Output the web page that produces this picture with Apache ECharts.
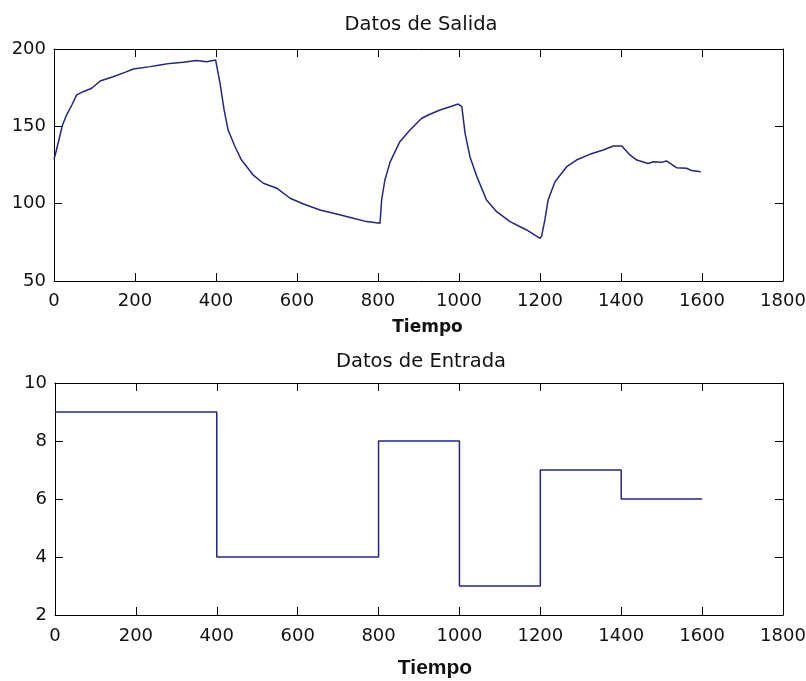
<!DOCTYPE html>
<html><head><meta charset="utf-8">
<script src="https://cdn.jsdelivr.net/npm/echarts@6/dist/echarts.min.js"></script>
<style>html,body{margin:0;padding:0;background:#fff}#c{width:806px;height:681px}</style>
</head><body><div id="c"></div>
<script>
// Output data (Datos de Salida): time, value
const outTime = [0, 3, 11, 21, 31, 44, 56, 72, 93, 114, 146, 175, 196, 237, 262, 286, 319, 352, 377, 399, 402,
  410, 420, 430, 447, 463, 492, 517, 550, 583, 616, 657, 698, 739, 772, 805,
  809, 817, 830, 854, 879, 908, 924, 953, 978, 998,
  1007, 1015, 1027, 1044, 1068, 1093, 1126, 1167, 1200,
  1204, 1212, 1220, 1237, 1266, 1290, 1323, 1356, 1381, 1402, 1422, 1439, 1467, 1480, 1500, 1512, 1537, 1562, 1574, 1578, 1597];
const outValue = [129, 131.5, 140, 150.9, 157.3, 163.8, 170.3, 172.4, 174.6, 179.3, 182.1, 184.9, 187.1, 188.6, 189.7, 190.7, 191.4, 192.5, 191.8, 192.9, 192.4,
  177.8, 160.6, 147.6, 136.8, 128.2, 118.5, 113.2, 110, 103.5, 99.8, 95.9, 93.3, 90.6, 88.4, 87.3,
  102.4, 115.3, 127, 140.1, 147.6, 155.2, 157.3, 160.6, 162.7, 164.4,
  162.7, 145.5, 130.4, 117.5, 102.4, 94.8, 88.4, 83, 77.6,
  79, 89.5, 102.4, 114.2, 123.9, 128.2, 131.9, 134.7, 137.3, 137.3, 131.5, 128.2, 126, 127.1, 126.7, 127.6, 123.3, 122.9, 121.4, 121.8, 120.7];
// Input data (Datos de Entrada): step change times and levels
const inTime = [0, 400, 800, 1000, 1200, 1400, 1600];
const inValue = [9, 4, 8, 3, 7, 6, 6];
const xTicks = [0, 200, 400, 600, 800, 1000, 1200, 1400, 1600, 1800];
const topYTicks = [50, 100, 150, 200];
const botYTicks = [2, 4, 6, 8, 10];

const lineColor = '#26267e';
const tickFont = {color: '#111', fontFamily: 'DejaVu Sans', fontSize: 18};
const chart = echarts.init(document.getElementById('c'));

function xAx(grid, pos, show, name, nameStyle, nameGap, margin) {
  return {
    type: 'value', gridIndex: grid, position: pos, min: xTicks[0], max: xTicks[xTicks.length-1],
    interval: xTicks[1]-xTicks[0],
    axisLine: {show: true, onZero: false, lineStyle: {color: '#000', width: 1}},
    axisTick: {show: true, inside: true, length: 8, lineStyle: {color: '#000'}},
    axisLabel: {show: show, margin: margin, formatter: v => String(v), ...tickFont},
    splitLine: {show: false},
    name: name, nameLocation: 'middle', nameGap: nameGap, nameTextStyle: nameStyle
  };
}
function yAx(grid, pos, show, ticks) {
  return {
    type: 'value', gridIndex: grid, position: pos, min: ticks[0], max: ticks[ticks.length-1],
    interval: ticks[1]-ticks[0],
    axisLine: {show: true, onZero: false, lineStyle: {color: '#000', width: 1}},
    axisTick: {show: true, inside: true, length: 8, lineStyle: {color: '#000'}},
    axisLabel: {show: show, margin: 8, formatter: v => String(v), ...tickFont},
    splitLine: {show: false}
  };
}

chart.setOption({
  animation: false,
  backgroundColor: '#fff',
  title: [
    {text: 'Datos de Salida', left: 416, top: 10, textAlign: 'center',
     textStyle: {fontFamily: 'DejaVu Sans', fontSize: 19.5, fontWeight: 'normal', color: '#111'}},
    {text: 'Datos de Entrada', left: 416, top: 347, textAlign: 'center',
     textStyle: {fontFamily: 'DejaVu Sans', fontSize: 19.5, fontWeight: 'normal', color: '#111'}}
  ],
  grid: [
    {left: 54, right: 23, top: 49, height: 232, show: false, outerBoundsMode: 'none', containLabel: false},
    {left: 55, right: 23, top: 383, height: 232, show: false, outerBoundsMode: 'none', containLabel: false}
  ],
  xAxis: [
    xAx(0, 'bottom', true, 'Tiempo', {fontFamily: 'DejaVu Sans', fontWeight: 'bold', fontSize: 17, color: '#111', padding: [0,0,0,18]}, 38, 11),
    xAx(0, 'top', false, '', {}, 0, 8),
    xAx(1, 'bottom', true, 'Tiempo', {fontFamily: 'Liberation Sans', fontWeight: 'bold', fontSize: 21, color: '#111', padding: [0,0,0,32]}, 43, 12),
    xAx(1, 'top', false, '', {}, 0, 8)
  ],
  yAxis: [
    yAx(0, 'left', true, topYTicks),
    yAx(0, 'right', false, topYTicks),
    yAx(1, 'left', true, botYTicks),
    yAx(1, 'right', false, botYTicks)
  ],
  series: [
    {type: 'line', xAxisIndex: 0, yAxisIndex: 0, showSymbol: false, symbol: 'none',
     lineStyle: {color: lineColor, width: 1.5},
     data: outTime.map((t, i) => [t, outValue[i]])},
    {type: 'line', xAxisIndex: 2, yAxisIndex: 2, showSymbol: false, symbol: 'none', step: 'end',
     lineStyle: {color: lineColor, width: 1.5},
     data: inTime.map((t, i) => [t, inValue[i]])}
  ]
});
</script></body></html>
